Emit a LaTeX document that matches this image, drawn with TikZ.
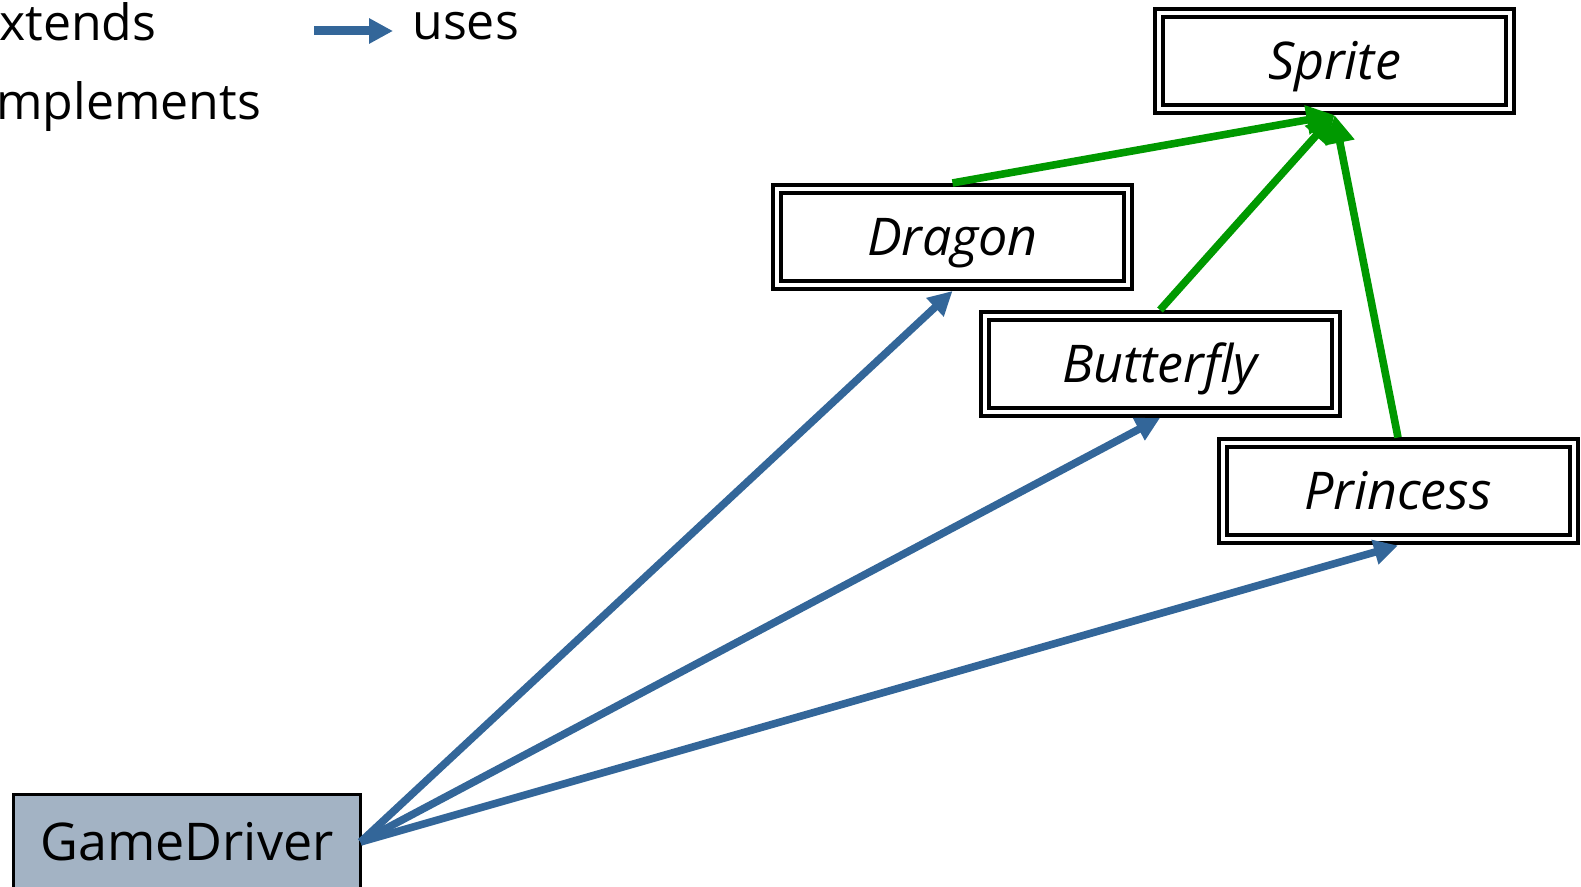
\documentclass[tikz,border=0pt]{standalone}
\usepackage{fontspec}
\setmainfont{Open Sans}
\usetikzlibrary{arrows.meta}
\definecolor{usesblue}{RGB}{51,102,153}
\definecolor{extgreen}{RGB}{0,153,0}
\definecolor{driverfill}{RGB}{163,179,196}

\begin{document}
\begin{tikzpicture}[x=0.5pt,y=-0.5pt,
  class node/.style={draw,double,line width=2pt,double distance=2pt,outer sep=3pt,minimum width=175.5pt,minimum height=48pt,font=\fontsize{26}{30}\selectfont\itshape,text height=18.5pt,text depth=0pt},
  main node/.style={draw,line width=1.5pt,fill=driverfill,minimum width=173.5pt,minimum height=48pt,outer sep=0pt,font=\fontsize{26}{30}\selectfont,text height=18.5pt,text depth=0pt},
  legend node/.style={anchor=base west,inner sep=0pt,font=\fontsize{25}{30}\selectfont},
  uses/.style={-{Triangle[length=12pt,width=12pt]},draw=usesblue,fill=usesblue,line width=3.8pt},
  extends/.style={-{Triangle[length=14pt,width=14pt]},draw=extgreen,fill=extgreen,line width=3.8pt}]
  \useasboundingbox (0,0) rectangle (1581,887);

  % legend
  \node[legend node] (extendsLabel) at (-1,41) {xtends};
  \node[legend node] (implementsLabel) at (-4,120) {mplements};
  \node[legend node] (usesLabel) at (412,40) {uses};
  \coordinate (usesA) at (314,31);
  \coordinate (usesB) at (393,31);

  % classes
  \node[class node] (Sprite) at (1334.5,61) {Sprite};
  \node[class node] (Dragon) at (952.5,237) {Dragon};
  \node[class node] (Butterfly) at (1160,364) {Butterfly};
  \node[class node] (Princess) at (1398,491.5) {Princess};
  \node[main node] (GameDriver) at (187,842) {GameDriver};

\path
  (usesA) edge[uses,line width=4.5pt] (usesB)
  (Dragon.north) edge[extends] (Sprite.south)
  (Butterfly.north) edge[extends] (Sprite.south)
  (Princess.north) edge[extends] (Sprite.south)
  (GameDriver.east) edge[uses] (Dragon.south)
  (GameDriver.east) edge[uses] (Butterfly.south)
  (GameDriver.east) edge[uses] (Princess.south)
;
\end{tikzpicture}
\end{document}
